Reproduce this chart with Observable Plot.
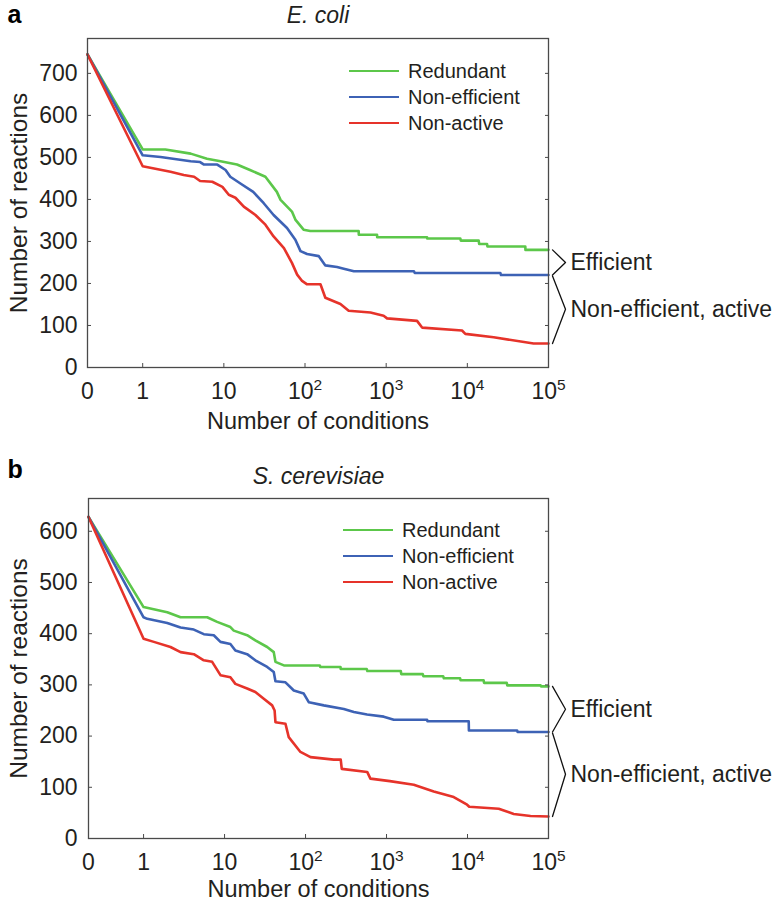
<!DOCTYPE html>
<html>
<head>
<meta charset="utf-8">
<script src="https://cdn.jsdelivr.net/npm/d3@7"></script>
<script src="https://cdn.jsdelivr.net/npm/@observablehq/plot@0.6"></script>
<style>
  body { margin: 0; background: #fff; font-family: "Liberation Sans", Arial, Helvetica, sans-serif; }
  #wrap { position: relative; width: 775px; height: 905px; overflow: hidden; }
  .panel { position: absolute; left: 0; }
  .legend { position: absolute; font-size: 20px; color: #231f20; line-height: 26px; }
  .legend .row { display: flex; align-items: center; height: 26px; }
  .legend .sw { display: inline-block; width: 50px; height: 2.6px; margin-right: 9px; }
</style>
</head>
<body>
<div id="wrap"></div>
<script>
// ---------- data ----------
const seriesNames = ["Redundant", "Non-efficient", "Non-active"];
const seriesColors = ["#5cc74a", "#3d62b5", "#e6332a"];

const xTickValues = [0, 1, 10, 100, 1000, 10000, 100000];
const xTickLabels = ["0", "1", "10", "10^2", "10^3", "10^4", "10^5"];
const yTicksEcoli = [0, 100, 200, 300, 400, 500, 600, 700];
const yTicksYeast = [0, 100, 200, 300, 400, 500, 600];

// E. coli: [number of conditions, number of reactions]
const ecoliRedundant = [[0,745],[1,519],[1.9,519],[3.9,509],[6.2,497],[9.1,491],[14.5,483],[21,470],[32.5,454],[45,418],[50,399],[69,371],[76,352],[96,328],[116,325],[458,325],[460,316],[772,316],[775,310],[3190,310],[3200,307],[8200,307],[8300,302],[13800,302],[14000,294],[17500,294],[17700,288],[51800,288],[52000,280],[100000,280]];
const ecoliNonEfficient = [[0,745],[1,505],[1.66,501],[3.9,491],[5.1,489],[5.7,483],[8.3,483],[10.5,470],[12,454],[16,438],[23,418],[31,391],[41,363],[60,332],[76,304],[88,277],[106,270],[148,265],[178,243],[248,239],[300,235],[400,229],[2200,229],[2250,225],[25500,225],[26000,220],[100000,220]];
const ecoliNonActive = [[0,745],[1,479],[2.2,466],[3.2,458],[4.3,454],[5.1,444],[7.2,442],[9.6,430],[11.5,411],[13.9,404],[17.6,383],[24.5,363],[32.5,340],[41,312],[55,284],[69,249],[80,221],[92,206],[106,198],[155,198],[178,166],[273,151],[345,135],[640,131],[930,123],[1025,117],[2400,111],[2770,95],[8600,88],[9450,80],[21100,72],[65500,57],[100000,57]];

// S. cerevisiae
const yeastRedundant = [[0,628],[1,452],[1.96,442],[2.86,432],[6.1,432],[8.1,423],[11.8,413],[13,406],[19,397],[24,387],[33.6,374],[40.5,364],[42.5,345],[54,338],[150,338],[152,335],[270,335],[272,331],[570,331],[580,327],[1500,327],[1520,321],[2800,321],[2850,317],[5000,317],[5100,313],[8100,313],[8200,309],[15800,309],[16000,304],[30500,304],[31000,299],[80000,299],[81000,297],[100000,297]];
const yeastNonEfficient = [[0,628],[1,432],[1.11,429],[1.96,421],[2.86,412],[4.17,408],[5.54,399],[7.36,397],[8.9,384],[11.8,380],[13.6,367],[19,360],[24,348],[33.6,335],[40.5,325],[42.5,307],[56.5,305],[71.6,289],[95,283],[110,266],[168,260],[297,253],[395,247],[575,242],[925,238],[1230,232],[3170,232],[3200,229],[10350,229],[10400,211],[41000,211],[41500,208],[100000,208]];
const yeastNonActive = [[0,628],[1,390],[1.34,384],[2.15,374],[2.86,364],[4.17,360],[5.54,348],[7.03,345],[8.9,319],[11.8,315],[13.6,302],[19,293],[24,286],[30.5,273],[38.7,260],[41.5,250],[42.5,227],[56.5,224],[62,198],[86.5,169],[115,159],[223,154],[272,154],[280,136],[577,130],[632,117],[1100,112],[2170,105],[3830,92],[6760,81],[9880,66],[10500,62],[24300,58],[37200,48],[60000,44],[100000,43]];

const annotationLabels = ["Efficient", "Non-efficient, active"];

// ---------- helpers ----------
const ZERO_POS = -0.68; // where 0 conditions sits on the log axis
const pos = c => (c <= 0 ? ZERO_POS : Math.log10(c));
const FONT = "Liberation Sans, Arial, Helvetica, sans-serif";
const INK = "#231f20";
const AXIS = "#4a4a4a";

function rows(list) {
  const out = [];
  list.forEach((pts, i) => pts.forEach(([c, v]) => out.push({series: seriesNames[i], x: pos(c), y: v})));
  return out;
}

function superscripts(svg) {
  svg.querySelectorAll("text").forEach(t => {
    const m = /^10\^(\d)$/.exec(t.textContent);
    if (m) {
      t.textContent = "10";
      const ts = document.createElementNS("http://www.w3.org/2000/svg", "tspan");
      ts.setAttribute("font-size", "15.5");
      ts.setAttribute("dy", "-8.5");
      ts.textContent = m[1];
      t.appendChild(ts);
    }
  });
}

function panel(cfg) {
  const {lists, yMax, yTicks, letter, title, top, height, mt, mb, ml, mr, letterDy, titleDy, xlabDy, ylabDx, xPad, yPad} = cfg;
  const data = rows(lists);
  const innerW = 775 - ml - mr;
  const pxPerUnit = innerW / (5 - ZERO_POS);
  const ends = lists.map(l => l[l.length - 1][1]);
  const xs = 5 + 4 / pxPerUnit, xv = 5 + 17 / pxPerUnit;
  const mid1 = (ends[0] + ends[1]) / 2, mid2 = (ends[1] + ends[2]) / 2;
  const bracket = [
    {g: 1, x: xs, y: ends[0]}, {g: 1, x: xv, y: mid1}, {g: 1, x: xs, y: ends[1]},
    {g: 2, x: xs, y: ends[1] - 2}, {g: 2, x: xv, y: mid2}, {g: 2, x: xs, y: ends[2]}
  ];
  const notes = [{x: 5, y: mid1, t: annotationLabels[0]}, {x: 5, y: mid2, t: annotationLabels[1]}];
  const xTickPos = xTickValues.map(pos);

  const svg = Plot.plot({
    width: 775, height,
    marginTop: mt, marginBottom: mb, marginLeft: ml, marginRight: mr,
    style: {fontFamily: FONT, fontSize: "23px", color: INK, background: "transparent", overflow: "visible"},
    x: {domain: [ZERO_POS, 5], label: null},
    y: {domain: [0, yMax], label: null},
    color: {domain: seriesNames, range: seriesColors},
    marks: [
      Plot.line(data, {x: "x", y: "y", z: "series", stroke: "series", strokeWidth: 2.6, strokeLinejoin: "round"}),
      Plot.frame({stroke: AXIS, strokeWidth: 1.3}),
      Plot.axisX(xTickPos, {anchor: "bottom", tickSize: -4, fill: "none", stroke: AXIS, label: null}),
      Plot.axisX(xTickPos, {anchor: "bottom", tickSize: 0, tickPadding: xPad, fill: INK, label: null,
        tickFormat: d => xTickLabels[xTickPos.indexOf(d)]}),
      Plot.axisY(yTicks, {anchor: "left", tickSize: -4, fill: "none", stroke: AXIS, label: null}),
      Plot.axisY(yTicks, {anchor: "left", tickSize: 0, tickPadding: yPad, fill: INK, label: null}),
      Plot.axisY(yTicks, {anchor: "right", tickSize: -4, fill: "none", stroke: AXIS, label: null}),
      Plot.line(bracket, {x: "x", y: "y", z: "g", stroke: "#111", strokeWidth: 1.3, clip: false}),
      Plot.text(notes, {x: "x", y: "y", text: "t", dx: 22, textAnchor: "start", fontSize: 23, fill: INK, clip: false}),
      Plot.text([letter], {frameAnchor: "top-left", dx: 7 - ml, dy: letterDy, textAnchor: "start", lineAnchor: "bottom", fontWeight: "bold", fontSize: 25, fill: "#000"}),
      Plot.text([title], {frameAnchor: "top", dy: titleDy, textAnchor: "middle", lineAnchor: "bottom", fontStyle: "italic", fontSize: 23, fill: INK}),
      Plot.text(["Number of conditions"], {frameAnchor: "bottom", dy: xlabDy, textAnchor: "middle", lineAnchor: "bottom", fontSize: 23.5, fill: INK}),
      Plot.text(["Number of reactions"], {frameAnchor: "left", dx: ylabDx, rotate: -90, textAnchor: "middle", lineAnchor: "bottom", fontSize: 24.5, fill: INK})
    ]
  });
  superscripts(svg);
  svg.classList.add("panel");
  svg.style.top = top + "px";
  return svg;
}

function legend(left, top) {
  const div = document.createElement("div");
  div.className = "legend";
  div.style.left = left + "px";
  div.style.top = top + "px";
  seriesNames.forEach((n, i) => {
    const r = document.createElement("div");
    r.className = "row";
    const sw = document.createElement("span");
    sw.className = "sw";
    sw.style.background = seriesColors[i];
    r.appendChild(sw);
    r.appendChild(document.createTextNode(n));
    div.appendChild(r);
  });
  return div;
}

const wrap = document.getElementById("wrap");
wrap.appendChild(panel({
  lists: [ecoliRedundant, ecoliNonEfficient, ecoliNonActive], yMax: 783, yTicks: yTicksEcoli,
  letter: "a", title: "E. coli", top: 0, height: 450, mt: 38, mb: 83, ml: 87, mr: 227,
  letterDy: -16, titleDy: -16, xlabDy: 61, ylabDx: -61, xPad: 15, yPad: 10
}));
wrap.appendChild(panel({
  lists: [yeastRedundant, yeastNonEfficient, yeastNonActive], yMax: 664, yTicks: yTicksYeast,
  letter: "b", title: "S. cerevisiae", top: 450, height: 455, mt: 48, mb: 67, ml: 88, mr: 227,
  letterDy: -21, titleDy: -15, xlabDy: 58, ylabDx: -62, xPad: 15, yPad: 11
}));
wrap.appendChild(legend(349, 58));
wrap.appendChild(legend(343, 517));
</script>
</body>
</html>
